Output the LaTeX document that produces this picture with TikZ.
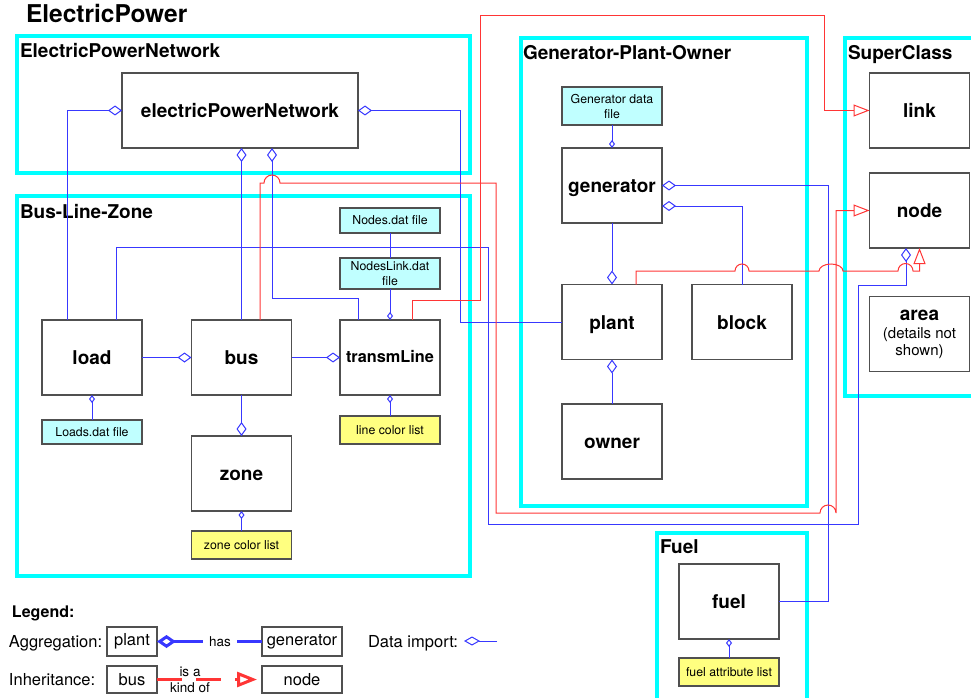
\documentclass[tikz,border=0pt]{standalone}
\usepackage{fontspec}
\setmainfont{TeX Gyre Heros}
\usetikzlibrary{arrows.meta}

\definecolor{aggblue}{HTML}{3838FF}
\definecolor{inhred}{HTML}{FF3535}
\definecolor{grpcyan}{HTML}{00FFFF}
\definecolor{filecyan}{HTML}{C0FFFF}
\definecolor{listyellow}{HTML}{FFFF80}
\definecolor{boxgray}{HTML}{505050}

\begin{document}
\begin{tikzpicture}[x=1pt, y=-1pt, every node/.style={outer sep=0pt},
    cls/.style={draw=boxgray, fill=white, line width=1.1pt, minimum width=100, minimum height=75, inner sep=1pt, text height=14pt, text depth=0pt, font=\fontsize{19}{21}\selectfont\bfseries},
    datafile/.style={draw=boxgray, fill=filecyan, line width=1.1pt, minimum width=100, inner sep=1pt, align=center, font=\fontsize{12.3}{15}\selectfont},
    attrlist/.style={datafile, fill=listyellow},
    grp/.style={draw=grpcyan, line width=3.2pt},
    grplabel/.style={anchor=base west, inner sep=0pt, font=\fontsize{19}{22}\selectfont\bfseries},
    lgtext/.style={anchor=base west, inner sep=0pt, font=\fontsize{16.5}{19}\selectfont},
    lgbox/.style={draw=boxgray, line width=1.1pt, inner sep=1pt, font=\fontsize{16.5}{19}\selectfont},
    smalltxt/.style={anchor=base, inner sep=0pt, font=\fontsize{13.5}{15}\selectfont},
    agg/.style={draw=aggblue, line width=1pt, -{Diamond[open, length=14pt, width=10pt]}},
    imp/.style={draw=aggblue, line width=1pt, -{Diamond[open, length=8pt, width=6pt]}},
    inh/.style={draw=inhred, line width=1pt, -{Triangle[open, length=16pt, width=12pt]}}]
    \useasboundingbox (0,0) rectangle (971,698);

    % group frames
    \draw[grp] (17,36) rectangle (470,173);
    \draw[grp] (17,196) rectangle (470,576);
    \draw[grp] (521,38) rectangle (807,506);
    \draw[grp] (845,38) rectangle (985,396);
    \draw[grp] (657,533) rectangle (807,710);

    \node[grplabel, font=\fontsize{24.5}{28}\selectfont\bfseries](title) at (26,23) {ElectricPower};
    \node[grplabel](lblEPN) at (20,58) {ElectricPowerNetwork};
    \node[grplabel](lblBLZ) at (20,218) {Bus-Line-Zone};
    \node[grplabel](lblGPO) at (523,60) {Generator-Plant-Owner};
    \node[grplabel](lblSup) at (848,60) {SuperClass};
    \node[grplabel](lblFuel) at (660,553) {Fuel};

    % classes
    \node[cls, minimum width=236](epn) at (240,110.5) {electricPowerNetwork};
    \node[cls](load) at (92,357.5) {load};
    \node[cls](bus) at (241.5,357.5) {bus};
    \node[cls, text height=9pt, font=\fontsize{16.3}{18}\selectfont\bfseries](tL) at (390,357.5) {transmLine};
    \node[cls](zone) at (241.5,473.5) {zone};
    \node[cls](gen) at (612,185.5) {generator};
    \node[cls](plant) at (612,322) {plant};
    \node[cls](block) at (742,322) {block};
    \node[cls](owner) at (612,441.5) {owner};
    \node[cls](link) at (919.5,110.5) {link};
    \node[cls](node) at (919.5,210.5) {node};
    \node[cls, text height=, text depth=, align=center, font=\fontsize{15}{17}\selectfont](area) at (919.5,334)
        {\fontsize{19}{19}\selectfont\bfseries area\\[1pt](details not\\shown)};
    \node[cls](fuel) at (729,601.5) {fuel};

    % data files and attribute lists
    \node[datafile, minimum height=25](nodesdat) at (390,220.5) {Nodes.dat file};
    \node[datafile, minimum height=31](nodeslinkdat) at (390,273.5) {NodesLink.dat\\file};
    \node[datafile, minimum height=24](loadsdat) at (92,432) {Loads.dat file};
    \node[datafile, minimum height=38](gendat) at (612,106) {Generator data\\file};
    \node[attrlist, minimum height=28](linelist) at (390,430) {line color list};
    \node[attrlist, minimum height=28](zonelist) at (241.5,545) {zone color list};
    \node[attrlist, minimum height=28](fuelattr) at (729,672) {fuel attribute list};

    % waypoints
    \coordinate (netR) at (460,322);
    \coordinate (w4) at (272,298);
    \coordinate (w8a) at (488,247);
    \coordinate (w8b) at (858,524);
    \coordinate (w8c) at (906,285);
    \coordinate (w10) at (828,185.5);
    \coordinate (h1a) at (264,183);
    \coordinate (r1c) at (496,513);
    \coordinate (h1b) at (820,513);
    \coordinate (r2a) at (480,300);
    \coordinate (r2b) at (824,16);
    \coordinate (h3a) at (735,271);
    \coordinate (h3b) at (819,271);
    \coordinate (h3c) at (898,271);

    % aggregation
    \draw[agg] ([xshift=-25]load.north) |- (epn.west);
    \draw[agg] (plant.west) -- (netR) |- (epn.east);
    \draw[agg] (bus.north) -- (bus.north |- epn.south);
    \draw[agg] ([xshift=-32]tL.north) |- (w4) -- ([xshift=32]epn.south);
    \draw[agg] (load.east) -- (bus.west);
    \draw[agg] (bus.east) -- (tL.west);
    \draw[agg] (bus.south) -- (zone.north);
    \draw[agg] ([xshift=24]load.north) |- (w8a) |- (w8b) |- (w8c) -- ([xshift=-13.5]node.south);
    \draw[agg] (gen.south) -- (plant.north);
    \draw[agg] (fuel.east) -| (w10) -- (gen.east);
    \draw[agg] (block.north) |- ([yshift=-20.5]gen.east);
    \draw[agg] (owner.north) -- (plant.south);

    % data import
    \draw[draw=aggblue, line width=1pt] (nodesdat.south) -- (nodeslinkdat.north);
    \draw[imp] (nodeslinkdat.south) -- (tL.north);
    \draw[imp] (loadsdat.north) -- (load.south);
    \draw[imp] (zonelist.north) -- (zone.south);
    \draw[imp] (linelist.north) -- (tL.south);
    \draw[imp] (gendat.south) -- (gen.north);
    \draw[imp] (fuelattr.north) -- (fuel.south);

    % inheritance
    \draw[inh] ([xshift=18.5]bus.north) |- (h1a) arc[start angle=180, end angle=360, radius=8]
        -| (r1c) -- (h1b) arc[start angle=180, end angle=360, radius=8] |- (node.west);
    \draw[inh] ([xshift=22]tL.north) |- (r2a) |- (r2b) |- (link.west);
    \draw[inh] ([xshift=24]plant.north) |- (h3a) arc[start angle=180, end angle=360, radius=7]
        -- (h3b) arc[start angle=180, end angle=360, x radius=12, y radius=7]
        -- (h3c) arc[start angle=180, end angle=360, radius=7.5] -| (node.south);

    % legend
    \node[lgtext, font=\fontsize{16}{19}\selectfont\bfseries](lgTitle) at (12,617) {Legend:};
    \node[lgtext](lgAggTxt) at (9,647) {Aggregation:};
    \node[lgbox, minimum width=50, minimum height=29](lgPlant) at (132,641.5) {plant};
    \node[lgbox, minimum width=80, minimum height=29](lgGen) at (302,641.5) {generator};
    \draw[draw=aggblue, line width=3pt, -{Diamond[open, length=19pt, width=13pt]}]
        (lgGen.west) -- node[pos=0.4, fill=white, inner xsep=6pt, inner ysep=1pt, font=\fontsize{13.5}{15}\selectfont](lgHas) {has} (lgPlant.east);

    \node[lgtext](lgImpTxt) at (368,647) {Data import:};
    \coordinate (lgImpA) at (497,641);
    \coordinate (lgImpB) at (464,641);
    \draw[draw=aggblue, line width=1pt, -{Diamond[open, length=16pt, width=9pt]}] (lgImpA) -- (lgImpB);

    \node[lgtext](lgInhTxt) at (9,685) {Inheritance:};
    \node[lgbox, minimum width=50, minimum height=27](lgBus) at (132,679.5) {bus};
    \node[lgbox, minimum width=80, minimum height=27](lgNode) at (302,679.5) {node};
    \draw[draw=inhred, line width=3pt] (lgBus.east) -- ++(25,0) ++(14,0) -- ++(25,0);
    \draw[draw=inhred, line width=3pt, -{Triangle[open, length=20pt, width=15pt]}] ([xshift=-27]lgNode.west) -- ([xshift=-5]lgNode.west);
    \node[smalltxt](lgIsA) at (190,676) {is a};
    \node[smalltxt](lgKind) at (190,692.5) {kind of};
\end{tikzpicture}
\end{document}
